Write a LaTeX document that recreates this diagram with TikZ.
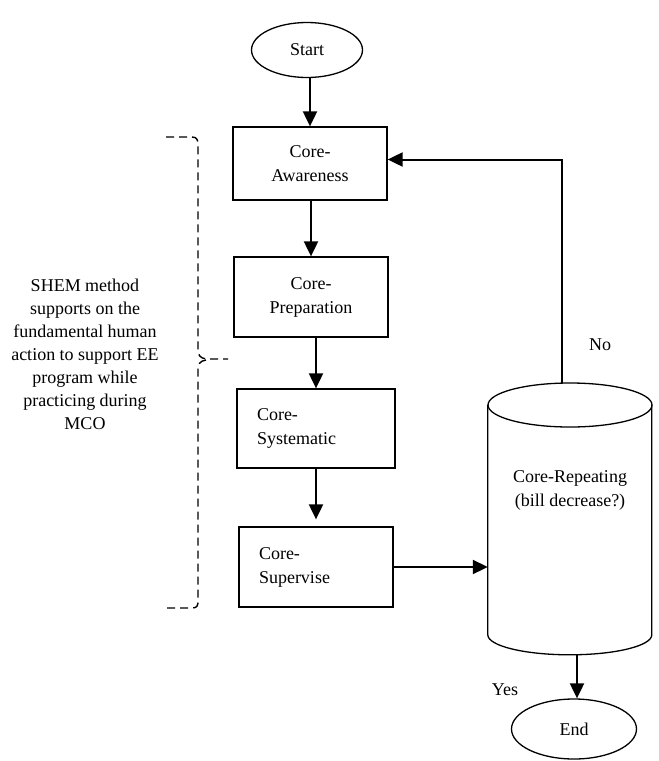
\documentclass[tikz,border=0pt]{standalone}
\usepackage{fontspec}
\setmainfont{Liberation Serif}
\newfontfamily\tnrfont{Liberation Serif}
\usetikzlibrary{arrows.meta,shapes.geometric}
\begin{document}
\begin{tikzpicture}[x=1pt,y=-1pt,
  every node/.style={font=\tnrfont\fontsize{18}{24}\selectfont},
  stepbox/.style={draw, line width=1.3pt, inner sep=0pt, align=center},
  leftbox/.style={draw, line width=1.3pt, inner xsep=20pt, inner ysep=0pt, align=left},
  oval/.style={draw, ellipse, line width=1.3pt, inner sep=0pt},
  arr/.style={line width=2pt, -{Triangle[length=15pt,width=14pt]}},
  bracestyle/.style={line width=1.4pt, dash pattern=on 8pt off 5pt}
]
\useasboundingbox (0,0) rectangle (659,761);

\node[oval, minimum width=111pt, minimum height=55pt] (start) at (307,50) {Start};
\node[stepbox, minimum width=154pt, minimum height=73pt] (aw) at (310,163.5) {Core-\\Awareness};
\node[stepbox, minimum width=154pt, minimum height=80pt] (prep) at (311,297) {Core-\\Preparation};
\node[leftbox, text width=118pt, minimum height=79pt] (sys) at (316,428.5) {Core-\\Systematic};
\node[leftbox, text width=114pt, minimum height=80pt] (sup) at (316,567) {Core-\\Supervise};

% cylinder
\node[inner sep=0pt, minimum width=164pt, minimum height=272pt] (cyl) at (570,519) {};
\draw[line width=1.3pt] (cyl.north west) ++(0,22) -- ++(0,230)
  arc[start angle=180, end angle=0, x radius=82, y radius=20] -- ++(0,-230);
\draw[line width=1.3pt] (570,405) ellipse [x radius=82, y radius=22];
\node[align=center] (rep) at (570,490) {Core-Repeating\\(bill decrease?)};
\coordinate (cyltop) at (562,383);
\coordinate (cylbot) at (577,655);

\node[oval, minimum width=125pt, minimum height=60pt] (end) at (574,729) {End};

\node (no) at (600,345) {No};
\node (yes) at (505,690) {Yes};

\node[align=center, font=\tnrfont\fontsize{18}{23}\selectfont] (shem) at (85,354)
  {SHEM method\\supports on the\\fundamental human\\action to support EE\\program while\\practicing during\\MCO};

% connectors
\draw[arr] (aw.north |- start.south) -- (aw.north);
\draw[arr] (prep.north |- aw.south) -- (prep.north);
\draw[arr] (sys.north |- prep.south) -- (sys.north);
\draw[arr, shorten >=7pt] (sys.south) -- (sup.north);
\draw[arr] (sup.east) -- (sup.east -| cyl.west);
\draw[arr] (cyltop) |- ([yshift=4pt]aw.east);
\draw[arr] (cylbot) -- (cylbot |- end.north);

% dashed brace
\draw[bracestyle] (166,137) -- (192,137) .. controls (197,137) and (198,140) .. (198,145)
  -- (198,350) .. controls (198,355) and (200,358) .. (206,359) -- (228,359);
\draw[bracestyle] (206,360) .. controls (200,361) and (198,364) .. (198,369)
  -- (198,601) .. controls (198,606) and (197,608) .. (192,608) -- (166,608);
\end{tikzpicture}
\end{document}
